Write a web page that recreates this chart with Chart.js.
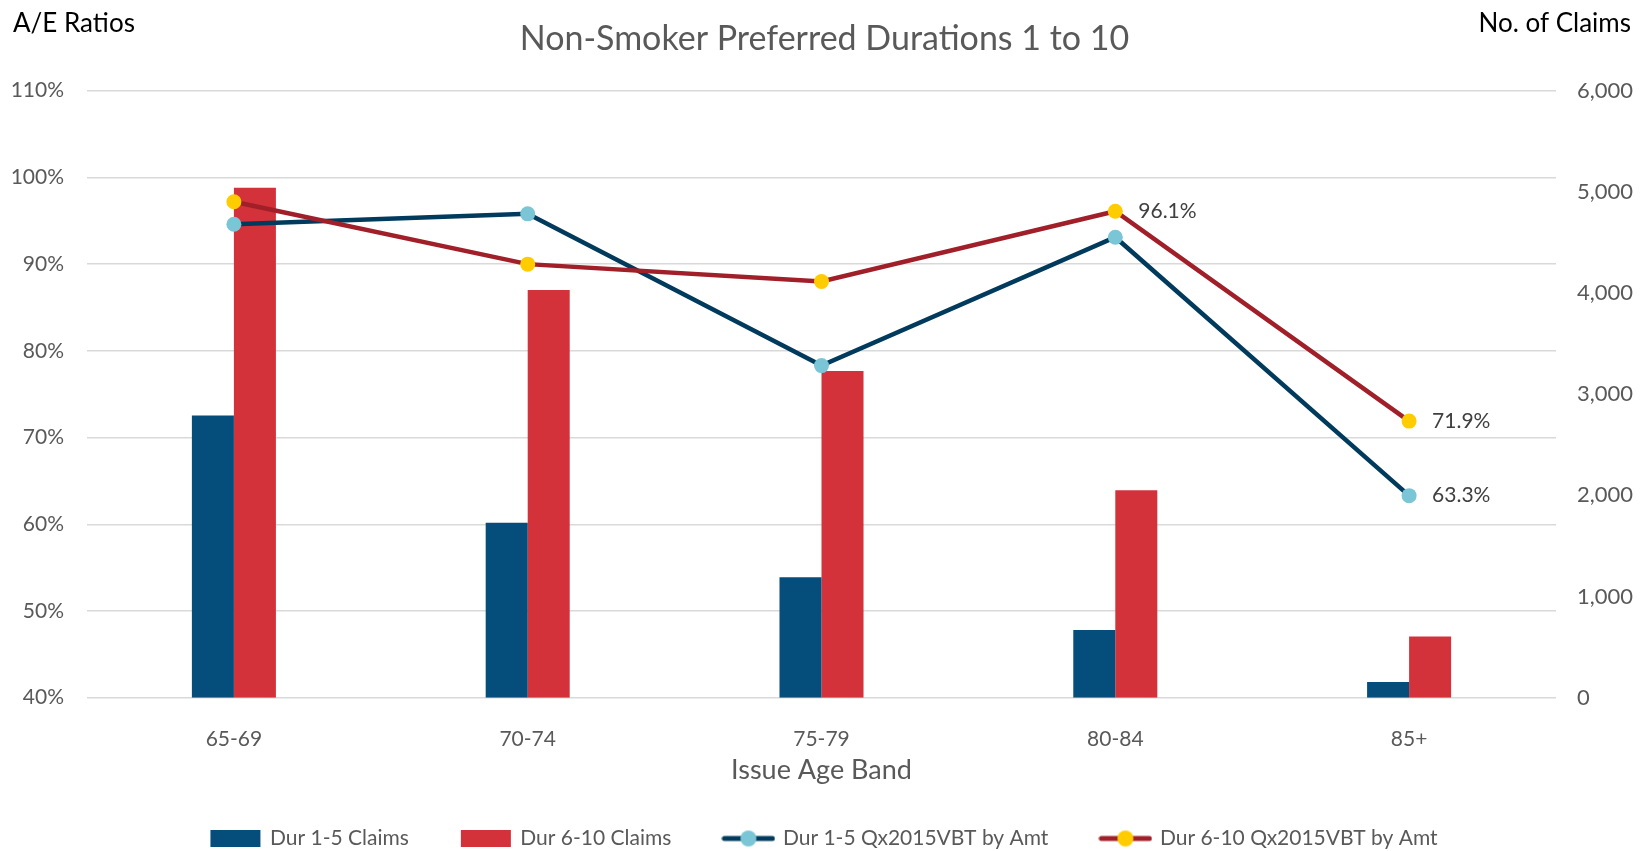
<!DOCTYPE html>
<html>
<head>
<meta charset="utf-8">
<title>Non-Smoker Preferred Durations 1 to 10</title>
<script src="https://cdn.jsdelivr.net/npm/chart.js@4.4.1/dist/chart.umd.min.js"></script>
<style>
  html, body { margin: 0; padding: 0; background: #fff; overflow: hidden; }
  #wrap { width: 1649px; height: 851px; }
</style>
</head>
<body>
<div id="wrap"><canvas id="grafico" width="1649" height="851"></canvas></div>
<script>
const categories = ['65-69', '70-74', '75-79', '80-84', '85+'];
const claimsDur1to5 = [2790, 1730, 1190, 670, 155];
const claimsDur6to10 = [5040, 4030, 3230, 2050, 605];
const aeDur1to5 = [94.6, 95.8, 78.3, 93.1, 63.3];
const aeDur6to10 = [97.2, 90.0, 88.0, 96.1, 71.9];
const labeledDur1to5 = [4];
const labeledDur6to10 = [3, 4];
const leftTicks = { min: 40, max: 110, step: 10 };
const rightTicks = { min: 0, max: 6000, step: 1000 };

const FONT = 'Lato';
const GRAY = '#595959';

// little pictures used as legend symbols
function barSymbol(color) {
  const c = document.createElement('canvas');
  c.width = 52; c.height = 17;
  const g = c.getContext('2d');
  g.fillStyle = color;
  g.fillRect(1, 0, 50, 17);
  return c;
}

function lineSymbol(lineColor, dotColor) {
  const c = document.createElement('canvas');
  c.width = 54; c.height = 18;
  const g = c.getContext('2d');
  g.strokeStyle = lineColor;
  g.lineWidth = 5;
  g.lineCap = 'round';
  g.beginPath();
  g.moveTo(3, 9);
  g.lineTo(51, 9);
  g.stroke();
  g.fillStyle = dotColor;
  g.beginPath();
  g.arc(27, 9, 8, 0, Math.PI * 2);
  g.fill();
  return c;
}

const legendSymbols = [
  barSymbol('#054D7B'),
  barSymbol('#D3323A'),
  lineSymbol('#003A5D', '#7AC5D6'),
  lineSymbol('#A01F28', '#FFCC00')
];

// value labels next to some points
const pointLabels = {
  id: 'pointLabels',
  afterDatasetsDraw(chart) {
    const ctx = chart.ctx;
    ctx.save();
    ctx.font = '21px ' + FONT;
    ctx.fillStyle = '#404040';
    ctx.textAlign = 'left';
    ctx.textBaseline = 'middle';
    [[2, labeledDur1to5], [3, labeledDur6to10]].forEach(([di, idx]) => {
      const meta = chart.getDatasetMeta(di);
      idx.forEach((i) => {
        const p = meta.data[i];
        const v = chart.data.datasets[di].data[i];
        ctx.fillText(v.toFixed(1) + '%', p.x + 23, p.y);
      });
    });
    ctx.restore();
  }
};

// axis captions in the top corners
const cornerTitles = {
  id: 'cornerTitles',
  afterDraw(chart) {
    const ctx = chart.ctx;
    ctx.save();
    ctx.font = '26px ' + FONT;
    ctx.fillStyle = '#000';
    ctx.textBaseline = 'middle';
    ctx.textAlign = 'left';
    ctx.fillText('A/E Ratios', 13, 24);
    ctx.textAlign = 'right';
    ctx.fillText('No. of Claims', 1631, 24);
    ctx.restore();
  }
};

const ctx = document.getElementById('grafico').getContext('2d');

const chart = new Chart(ctx, {
  data: {
    labels: categories,
    datasets: [
      {
        type: 'bar',
        label: 'Dur 1-5 Claims',
        data: claimsDur1to5,
        yAxisID: 'y1',
        backgroundColor: '#054D7B',
        categoryPercentage: 0.286,
        barPercentage: 1.0,
        order: 3
      },
      {
        type: 'bar',
        label: 'Dur 6-10 Claims',
        data: claimsDur6to10,
        yAxisID: 'y1',
        backgroundColor: '#D3323A',
        categoryPercentage: 0.286,
        barPercentage: 1.0,
        order: 3
      },
      {
        type: 'line',
        label: 'Dur 1-5 Qx2015VBT by Amt',
        data: aeDur1to5,
        yAxisID: 'y',
        borderColor: '#003A5D',
        borderWidth: 4.5,
        pointRadius: 7.5,
        pointHoverRadius: 7.5,
        pointBackgroundColor: '#7AC5D6',
        pointBorderWidth: 0,
        tension: 0,
        order: 2
      },
      {
        type: 'line',
        label: 'Dur 6-10 Qx2015VBT by Amt',
        data: aeDur6to10,
        yAxisID: 'y',
        borderColor: '#A01F28',
        borderWidth: 4.5,
        pointRadius: 7.5,
        pointHoverRadius: 7.5,
        pointBackgroundColor: '#FFCC00',
        pointBorderWidth: 0,
        tension: 0,
        order: 1
      }
    ]
  },
  options: {
    responsive: false,
    animation: false,
    layout: { padding: { top: 0, left: 0, right: 0, bottom: -8 } },
    plugins: {
      tooltip: { enabled: false },
      title: {
        display: true,
        text: 'Non-Smoker Preferred Durations 1 to 10',
        color: GRAY,
        font: { family: FONT, size: 34, weight: 'normal', lineHeight: 1.2 },
        padding: { top: 18.6, bottom: 31.3 }
      },
      legend: {
        position: 'bottom',
        labels: {
          usePointStyle: true,
          pointStyleWidth: 48,
          padding: 53,
          color: GRAY,
          font: { family: FONT, size: 21 },
          sort: (a, b) => a.datasetIndex - b.datasetIndex,
          generateLabels(chart) {
            const items = Chart.defaults.plugins.legend.labels.generateLabels(chart);
            items.forEach((it) => { it.pointStyle = legendSymbols[it.datasetIndex]; });
            return items;
          }
        }
      }
    },
    scales: {
      x: {
        grid: { display: false },
        border: { display: false },
        ticks: { color: GRAY, font: { family: FONT, size: 21 }, padding: 21 },
        title: {
          display: true,
          text: 'Issue Age Band',
          color: GRAY,
          font: { family: FONT, size: 27, lineHeight: 1 },
          padding: { top: 0, bottom: -8.5 }
        },
        afterFit(scale) { scale.height = 77.3; }
      },
      y: {
        position: 'left',
        min: leftTicks.min,
        max: leftTicks.max,
        ticks: {
          stepSize: leftTicks.step,
          color: GRAY,
          font: { family: FONT, size: 21 },
          padding: 23,
          callback: (v) => v + '%'
        },
        grid: { color: '#D9D9D9', lineWidth: 1.5, drawTicks: false },
        border: { display: false },
        afterFit(scale) { scale.width = 87; }
      },
      y1: {
        position: 'right',
        min: rightTicks.min,
        max: rightTicks.max,
        ticks: {
          stepSize: rightTicks.step,
          color: GRAY,
          font: { family: FONT, size: 22 },
          padding: 21,
          callback: (v) => v.toLocaleString('en-US')
        },
        grid: { display: false, drawTicks: false },
        border: { display: false },
        afterFit(scale) { scale.width = 93; }
      }
    }
  },
  plugins: [pointLabels, cornerTitles]
});
</script>
</body>
</html>
